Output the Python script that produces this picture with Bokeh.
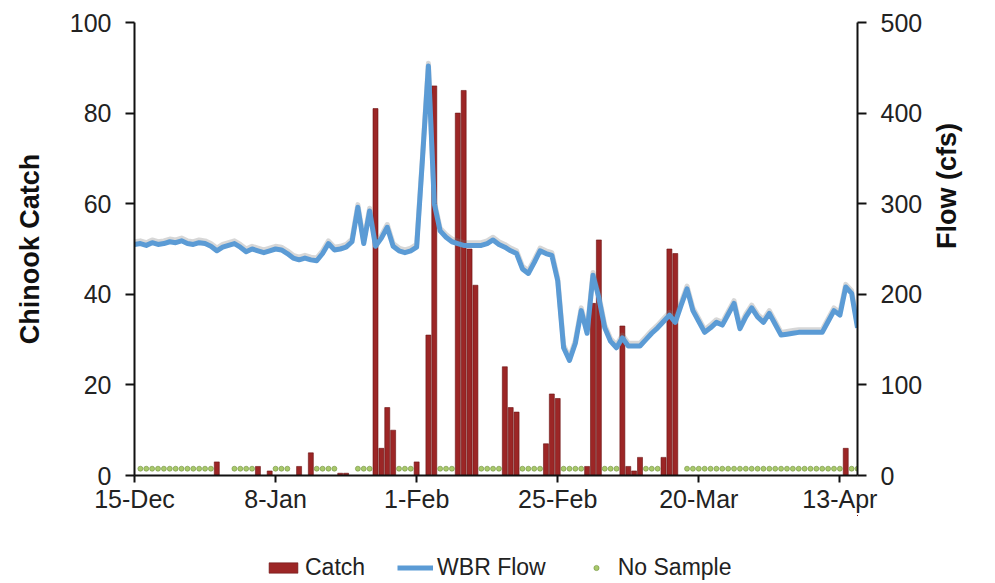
import math
from bokeh.plotting import figure
from bokeh.layouts import column
from bokeh.models import Range1d, LinearAxis, FixedTicker, Legend, LegendItem
from bokeh.embed import file_html
from bokeh.resources import INLINE

# days counted from 15-Dec
catch_days = [14, 21, 23, 28, 30, 35, 36, 41, 42, 43, 44, 48, 50, 51, 55, 56, 57, 58,
              63, 64, 65, 70, 71, 72, 77, 78, 79, 83, 84, 85, 86, 90, 91, 92, 121]
catch = [3, 2, 1, 2, 5, 0.5, 0.5, 81, 6, 15, 10, 3, 31, 86, 80, 85, 50, 42,
         24, 15, 14, 7, 18, 17, 2, 38, 52, 33, 2, 1, 4, 4, 50, 49, 6]

flow_days = list(range(124))
flow = [255, 256, 254, 257, 255, 256, 258, 257, 259, 256,
        255, 257, 256, 253, 248, 252, 254, 256, 252, 247,
        250, 248, 246, 248, 250, 249, 245, 240, 238, 240,
        238, 237, 245, 256, 249, 250, 252, 258, 296, 256,
        292, 253, 262, 274, 253, 248, 246, 248, 252, 350,
        452, 300, 270, 263, 258, 256, 254, 254, 254, 254,
        256, 260, 255, 252, 248, 245, 228, 223, 235, 248,
        245, 243, 215, 141, 127, 146, 182, 157, 221, 196,
        163, 148, 141, 152, 143, 143, 143, 150, 157, 163,
        170, 177, 169, 188, 206, 182, 170, 158, 163, 169,
        166, 178, 190, 162, 175, 185, 175, 169, 179, 167,
        155, 156, 157, 158, 158, 158, 158, 158, 170, 182,
        177, 208, 201, 163]

nosample_days = (list(range(1, 14)) + list(range(17, 21)) + list(range(24, 27)) +
                 list(range(31, 35)) + list(range(38, 41)) + list(range(45, 48)) +
                 list(range(52, 55)) + list(range(59, 63)) + list(range(66, 70)) +
                 list(range(73, 77)) + list(range(80, 83)) + list(range(87, 90)) +
                 list(range(94, 121)) + [122, 123])
nosample = [1.5] * len(nosample_days)

date_ticks = [0, 24, 48, 72, 96, 120]
date_labels = ["15-Dec", "8-Jan", "1-Feb", "25-Feb", "20-Mar", "13-Apr"]

FONT = "Liberation Sans"
BAR = dict(fill_color="#9c2626", line_color="#6a1212", line_width=0.6)
DOT = dict(size=5, fill_color="#a9c96b", line_color="#6f8f3c", line_width=0.6)
LINE = dict(line_width=5, line_color="#5b9bd5", line_join="round")

p = figure(width=990, height=515, x_range=Range1d(0, 123), y_range=Range1d(0, 100),
           output_backend="svg", toolbar_location=None,
           min_border_left=134, min_border_right=133, min_border_top=22, min_border_bottom=40)
p.extra_y_ranges = {"flow": Range1d(0, 500), "shadow": Range1d(-3, 497)}

p.vbar(x=catch_days, top=catch, width=0.85, bottom=0, **BAR)
p.scatter(nosample_days, nosample, **DOT)
p.line(flow_days, flow, y_range_name="shadow", line_width=5, line_color="#7a7a7a",
       line_alpha=0.3, line_join="round")
p.line(flow_days, flow, y_range_name="flow", **LINE)

p.xaxis.ticker = FixedTicker(ticks=date_ticks)
p.xaxis.major_label_overrides = dict(zip(date_ticks, date_labels))
p.yaxis.ticker = FixedTicker(ticks=[0, 20, 40, 60, 80, 100])
p.yaxis.axis_label = "Chinook Catch"

right = LinearAxis(y_range_name="flow", ticker=FixedTicker(ticks=[0, 100, 200, 300, 400, 500]),
                   axis_label="Flow (cfs)")
p.add_layout(right, "right")
if "axis_label_orientation" in right.properties():
    right.axis_label_orientation = math.pi / 2

for ax in [p.xaxis[0], p.yaxis[0], right]:
    ax.axis_line_width = 2
    ax.axis_line_color = "#111111"
    ax.major_tick_line_width = 2
    ax.major_tick_line_color = "#111111"
    ax.major_tick_in = 0
    ax.major_tick_out = 9
    ax.minor_tick_line_color = None
    ax.major_label_text_font = FONT
    ax.major_label_text_font_size = "25px"
    ax.major_label_text_color = "#222222"
    ax.major_label_standoff = 14
    ax.axis_label_text_font = FONT
    ax.axis_label_text_font_size = "27px"
    ax.axis_label_text_font_style = "bold"
    ax.axis_label_text_color = "#111111"
    ax.axis_label_standoff = 22

p.xaxis.major_tick_out = 7
p.xaxis.major_label_standoff = 2

p.xgrid.grid_line_color = None
p.ygrid.grid_line_color = None
p.outline_line_color = None

# legend strip under the chart; its ranges keep the series out of view,
# the renderers are only there to give the legend its swatches
lg = figure(width=990, height=68, x_range=Range1d(-2, -1), y_range=Range1d(-2, -1),
            output_backend="svg", toolbar_location=None, min_border=0)
lg.axis.visible = False
lg.grid.grid_line_color = None
lg.outline_line_color = None
r_bar = lg.vbar(x=catch_days, top=catch, width=0.85, **BAR)
r_line = lg.line(flow_days, flow, **LINE)
r_dot = lg.scatter(nosample_days, nosample, **DOT)

legend = Legend(items=[LegendItem(label="Catch", renderers=[r_bar]),
                       LegendItem(label="WBR Flow", renderers=[r_line]),
                       LegendItem(label="No Sample", renderers=[r_dot])],
                location=(131, 2), orientation="horizontal")
legend.glyph_width = 36
legend.glyph_height = 13
legend.label_standoff = 4
legend.spacing = 32
legend.padding = 0
legend.margin = 0
legend.border_line_color = None
legend.background_fill_alpha = 0
legend.label_text_font = FONT
legend.label_text_font_size = "23px"
legend.label_text_color = "#222222"
lg.add_layout(legend)

open("out.html", "w").write(file_html(column(p, lg), INLINE))
